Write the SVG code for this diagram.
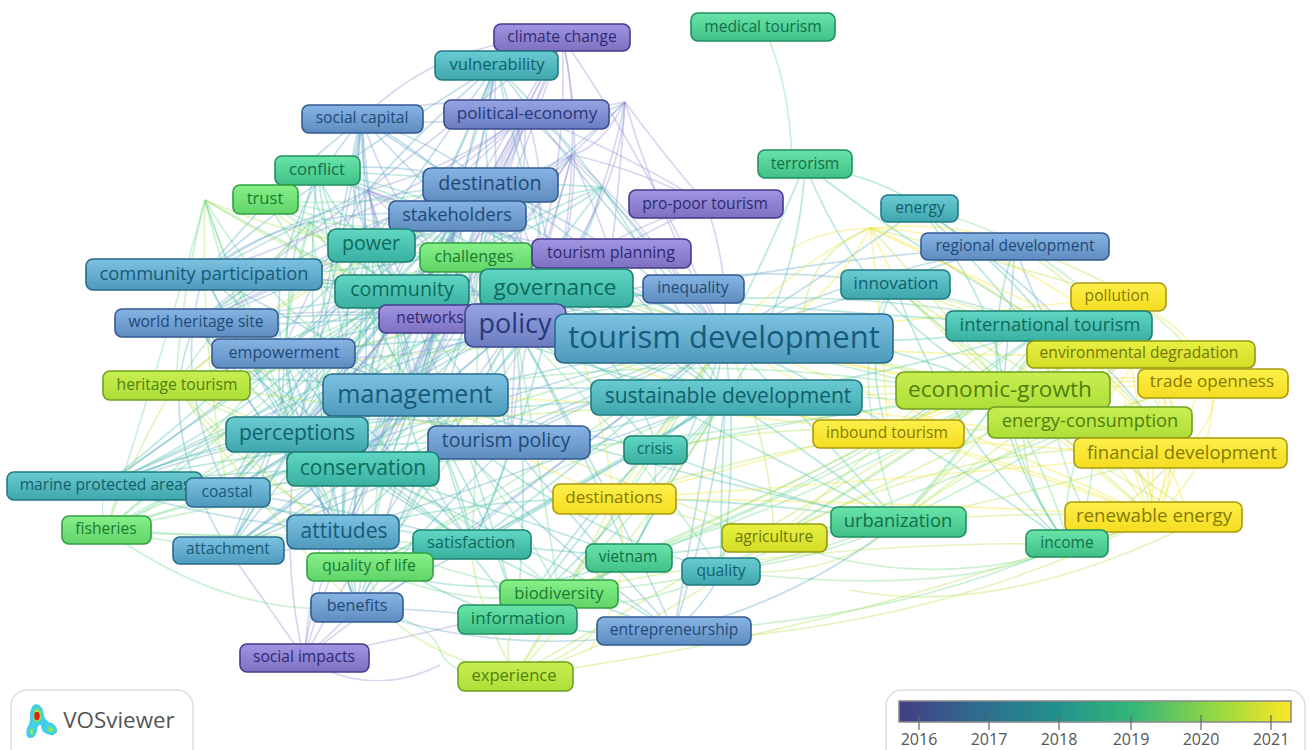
<svg xmlns="http://www.w3.org/2000/svg" width="1309" height="750" viewBox="0 0 1309 750">
<style>
text{font-family:"Open Sans","Noto Sans","Liberation Sans",sans-serif;text-anchor:middle;dominant-baseline:central;transform:translateY(-1.2px)}
#connectors{filter:url(#soft)}
#connectors path{fill:none;stroke-width:1.7;stroke-opacity:.36}
.a{stroke:#5aa6c4}.b{stroke:#8f90d6}.c{stroke:#45bfa8}.d{stroke:#6fd98a}.e{stroke:#b5e04a}.f{stroke:#f4e42c}
.k rect{stroke-width:1.6}
.n1 rect{fill:url(#g1);stroke:#453a8a}.n1 text{fill:#2f2a70}
.n2 rect{fill:url(#g2);stroke:#3a4a8e}.n2 text{fill:#28387a}
.n3 rect{fill:url(#g3);stroke:#335a8e}.n3 text{fill:#1f4a78}
.n4 rect{fill:url(#g4);stroke:#2a6a88}.n4 text{fill:#185a78}
.n5 rect{fill:url(#g5);stroke:#207a80}.n5 text{fill:#10606a}
.n6 rect{fill:url(#g6);stroke:#1e8070}.n6 text{fill:#0e6a5c}
.n7 rect{fill:url(#g7);stroke:#209060}.n7 text{fill:#107048}
.n8 rect{fill:url(#g8);stroke:#30a040}.n8 text{fill:#1a7a30}
.n9 rect{fill:url(#g9);stroke:#6ea020}.n9 text{fill:#4f8010}
.n10 rect{fill:url(#g10);stroke:#909a10}.n10 text{fill:#6e7808}
.n11 rect{fill:url(#g11);stroke:#a89a10}.n11 text{fill:#857a00}
.leg text{fill:#555;font-size:16px}
</style>
<defs>
<filter id="soft" x="0" y="0" width="100%" height="100%"><feGaussianBlur stdDeviation=".5"/></filter>
<filter id="soft2" x="-20%" y="-20%" width="140%" height="140%"><feGaussianBlur stdDeviation=".7"/></filter>
<linearGradient id="g1" x1="0" y1="0" x2="0" y2="1"><stop offset="0" stop-color="#a096e2"/><stop offset="1" stop-color="#7d70c0"/></linearGradient>
<linearGradient id="g2" x1="0" y1="0" x2="0" y2="1"><stop offset="0" stop-color="#96a4e4"/><stop offset="1" stop-color="#6a7cc0"/></linearGradient>
<linearGradient id="g3" x1="0" y1="0" x2="0" y2="1"><stop offset="0" stop-color="#86b4e4"/><stop offset="1" stop-color="#5e8cc0"/></linearGradient>
<linearGradient id="g4" x1="0" y1="0" x2="0" y2="1"><stop offset="0" stop-color="#7cc2e2"/><stop offset="1" stop-color="#4e9abc"/></linearGradient>
<linearGradient id="g5" x1="0" y1="0" x2="0" y2="1"><stop offset="0" stop-color="#6accd2"/><stop offset="1" stop-color="#3fa6ae"/></linearGradient>
<linearGradient id="g6" x1="0" y1="0" x2="0" y2="1"><stop offset="0" stop-color="#60d6c4"/><stop offset="1" stop-color="#39b0a0"/></linearGradient>
<linearGradient id="g7" x1="0" y1="0" x2="0" y2="1"><stop offset="0" stop-color="#68e4a8"/><stop offset="1" stop-color="#40c088"/></linearGradient>
<linearGradient id="g8" x1="0" y1="0" x2="0" y2="1"><stop offset="0" stop-color="#86f088"/><stop offset="1" stop-color="#60d468"/></linearGradient>
<linearGradient id="g9" x1="0" y1="0" x2="0" y2="1"><stop offset="0" stop-color="#c8ee50"/><stop offset="1" stop-color="#aede38"/></linearGradient>
<linearGradient id="g10" x1="0" y1="0" x2="0" y2="1"><stop offset="0" stop-color="#e8f040"/><stop offset="1" stop-color="#d4dc28"/></linearGradient>
<linearGradient id="g11" x1="0" y1="0" x2="0" y2="1"><stop offset="0" stop-color="#fdf04a"/><stop offset="1" stop-color="#f5dc20"/></linearGradient>
<linearGradient id="vir"><stop offset="0" stop-color="#433e85"/><stop offset=".2" stop-color="#2f6b8e"/><stop offset=".4" stop-color="#21918c"/><stop offset=".6" stop-color="#35b779"/><stop offset=".8" stop-color="#90d743"/><stop offset="1" stop-color="#fde725"/></linearGradient>
</defs>
<rect width="1309" height="750" fill="#fff"/>
<g id="connectors">
<path class="a" d="M415 395Q300 320 204 274"/><path class="a" d="M415 395Q310 345 196 323"/><path class="a" d="M415 395Q350 360 283 353"/><path class="c" d="M415 395Q290 370 176 385"/><path class="a" d="M415 395Q250 430 104 486"/><path class="a" d="M415 395Q330 430 228 492"/><path class="d" d="M415 395Q250 460 106 530"/><path class="a" d="M415 395Q320 480 228 550"/><path class="c" d="M415 395Q460 470 472 544"/><path class="d" d="M415 395Q375 490 370 567"/><path class="a" d="M415 395Q370 500 357 607"/><path class="b" d="M415 395Q340 530 304 658"/><path class="c" d="M415 395Q490 510 517 619"/><path class="d" d="M415 395Q510 490 559 594"/><path class="a" d="M415 395Q480 290 490 185"/><path class="a" d="M415 395Q445 300 457 216"/><path class="b" d="M415 395Q490 250 526 114"/><path class="a" d="M415 395Q470 220 496 65"/><path class="b" d="M415 395Q510 210 562 37"/><path class="a" d="M415 395Q370 250 362 119"/><path class="c" d="M415 395Q350 280 317 170"/><path class="d" d="M415 395Q320 290 265 199"/>
<path class="a" d="M724 338Q560 250 362 119"/><path class="a" d="M724 338Q620 230 496 65"/><path class="b" d="M724 338Q660 180 562 37"/><path class="b" d="M724 338Q640 220 526 114"/><path class="a" d="M724 338Q620 240 490 185"/><path class="a" d="M724 338Q600 270 457 216"/><path class="c" d="M724 338Q540 240 317 170"/><path class="d" d="M724 338Q500 240 265 199"/><path class="a" d="M724 338Q460 280 204 274"/><path class="a" d="M724 338Q460 300 196 323"/><path class="a" d="M724 338Q500 330 283 353"/><path class="e" d="M724 338Q450 340 176 385"/><path class="a" d="M724 338Q410 390 104 486"/><path class="a" d="M724 338Q470 400 228 492"/><path class="d" d="M724 338Q420 430 106 530"/><path class="a" d="M724 338Q470 450 228 550"/><path class="c" d="M724 338Q600 450 472 544"/><path class="d" d="M724 338Q540 470 370 567"/><path class="a" d="M724 338Q530 490 357 607"/><path class="b" d="M724 338Q500 510 304 658"/><path class="c" d="M724 338Q620 490 517 619"/><path class="d" d="M724 338Q650 470 559 594"/><path class="c" d="M724 338Q690 450 629 558"/><path class="c" d="M724 338Q740 450 721 571"/><path class="a" d="M724 338Q700 490 674 631"/><path class="e" d="M724 338Q620 500 515 676"/><path class="c" d="M724 338Q810 420 898 522"/><path class="e" d="M724 338Q770 430 774 538"/><path class="f" d="M724 338Q670 420 614 499"/><path class="f" d="M724 338Q810 390 888 434"/><path class="c" d="M724 338Q900 420 1067 544"/><path class="e" d="M724 338Q870 360 1003 390"/><path class="d" d="M724 338Q900 380 1090 422"/><path class="f" d="M724 338Q950 380 1180 453"/><path class="f" d="M724 338Q950 420 1153 517"/><path class="f" d="M724 338Q920 320 1118 297"/><path class="f" d="M724 338Q930 360 1141 354"/><path class="f" d="M724 338Q960 400 1213 383"/><path class="c" d="M724 338Q880 350 1049 326"/><path class="a" d="M724 338Q800 310 895 285"/><path class="a" d="M724 338Q860 270 1015 246"/><path class="a" d="M724 338Q820 280 920 208"/><path class="c" d="M724 338Q770 250 805 164"/><path class="b" d="M724 338Q730 270 706 204"/>
<path class="b" d="M515 325Q400 240 362 119"/><path class="b" d="M515 325Q490 200 496 65"/><path class="b" d="M515 325Q570 190 562 37"/><path class="b" d="M515 325Q560 210 526 114"/><path class="b" d="M515 325Q560 250 490 185"/><path class="b" d="M515 325Q360 270 204 274"/><path class="b" d="M515 325Q350 300 196 323"/><path class="b" d="M515 325Q400 370 283 353"/><path class="a" d="M515 325Q310 390 104 486"/><path class="a" d="M515 325Q370 400 228 492"/><path class="a" d="M515 325Q380 440 228 550"/><path class="b" d="M515 325Q400 480 304 658"/><path class="a" d="M515 325Q430 470 357 607"/><path class="d" d="M515 325Q440 460 370 567"/><path class="d" d="M515 325Q540 470 559 594"/><path class="c" d="M515 325Q530 470 517 619"/><path class="a" d="M515 325Q600 470 674 631"/><path class="b" d="M515 325Q580 240 706 204"/><path class="b" d="M515 325Q620 210 625 102"/><path class="b" d="M526 114Q600 120 625 102Q600 150 570 155"/><path class="c" d="M515 325Q760 290 1003 390"/><path class="c" d="M515 325Q780 270 1049 326"/><path class="a" d="M515 325Q760 260 1015 246"/><path class="a" d="M515 325Q700 250 895 285"/>
<path class="c" d="M556 288Q430 220 317 170"/><path class="a" d="M556 288Q460 170 362 119"/><path class="c" d="M556 288Q520 170 496 65"/><path class="b" d="M556 288Q590 160 562 37"/><path class="c" d="M556 288Q380 300 204 274"/><path class="a" d="M556 288Q370 330 196 323"/><path class="c" d="M556 288Q340 360 176 385"/><path class="c" d="M556 288Q320 380 104 486"/><path class="c" d="M556 288Q390 390 228 492"/><path class="a" d="M556 288Q400 430 228 550"/><path class="c" d="M556 288Q470 420 343 532"/><path class="c" d="M556 288Q480 420 363 469"/><path class="c" d="M556 288Q420 370 297 434"/><path class="c" d="M556 288Q530 420 472 544"/><path class="d" d="M556 288Q470 440 370 567"/><path class="c" d="M556 288Q640 340 726 397"/><path class="c" d="M556 288Q660 420 655 450"/><path class="f" d="M556 288Q600 390 614 499"/>
<path class="c" d="M402 291Q300 230 317 170"/><path class="d" d="M402 291Q320 240 265 199"/><path class="a" d="M402 291Q330 200 362 119"/><path class="c" d="M402 291Q300 280 204 274"/><path class="a" d="M402 291Q290 310 196 323"/><path class="c" d="M402 291Q290 340 176 385"/><path class="c" d="M402 291Q250 380 104 486"/><path class="c" d="M402 291Q300 400 228 492"/><path class="d" d="M402 291Q240 420 106 530"/><path class="a" d="M402 291Q300 430 228 550"/><path class="c" d="M402 291Q340 420 343 532"/><path class="c" d="M402 291Q380 420 472 544"/><path class="d" d="M402 291Q380 440 370 567"/><path class="a" d="M402 291Q340 460 357 607"/><path class="b" d="M402 291Q320 480 304 658"/><path class="c" d="M402 291Q480 460 517 619"/><path class="c" d="M402 291Q560 370 726 397"/>
<path class="c" d="M363 469Q240 470 104 486"/><path class="c" d="M363 469Q290 460 228 492"/><path class="d" d="M363 469Q230 490 106 530"/><path class="c" d="M363 469Q290 520 228 550"/><path class="c" d="M363 469Q420 510 472 544"/><path class="d" d="M363 469Q360 520 370 567"/><path class="c" d="M363 469Q340 550 357 607"/><path class="c" d="M363 469Q460 520 517 619"/><path class="d" d="M363 469Q480 520 559 594"/><path class="c" d="M363 469Q290 340 204 274"/><path class="c" d="M363 469Q280 380 196 323"/><path class="e" d="M363 469Q280 430 176 385"/><path class="c" d="M363 469Q550 450 726 397"/><path class="c" d="M363 469Q510 420 724 338"/><path class="c" d="M363 469Q480 380 490 185"/><path class="c" d="M363 469Q420 340 457 216"/>
<path class="a" d="M343 532Q210 520 104 486"/><path class="a" d="M343 532Q280 510 228 492"/><path class="d" d="M343 532Q220 540 106 530"/><path class="a" d="M343 532Q280 560 228 550"/><path class="c" d="M343 532Q410 560 472 544"/><path class="d" d="M343 532Q350 550 370 567"/><path class="a" d="M343 532Q340 570 357 607"/><path class="b" d="M343 532Q310 600 304 658"/><path class="c" d="M343 532Q440 600 517 619"/><path class="d" d="M343 532Q460 580 559 594"/><path class="a" d="M343 532Q270 400 204 274"/><path class="a" d="M343 532Q260 420 196 323"/><path class="a" d="M343 532Q320 440 283 353"/><path class="e" d="M343 532Q240 470 176 385"/><path class="c" d="M343 532Q300 350 317 170"/><path class="d" d="M343 532Q260 360 205 200"/><path class="a" d="M343 532Q530 470 726 397"/><path class="c" d="M343 532Q560 470 898 522"/>
<path class="c" d="M297 434Q190 450 104 486"/><path class="c" d="M297 434Q250 450 228 492"/><path class="d" d="M297 434Q190 480 106 530"/><path class="c" d="M297 434Q260 500 228 550"/><path class="c" d="M297 434Q400 500 472 544"/><path class="d" d="M297 434Q330 510 370 567"/><path class="a" d="M297 434Q330 530 357 607"/><path class="b" d="M297 434Q280 560 304 658"/><path class="c" d="M297 434Q240 350 204 274"/><path class="a" d="M297 434Q240 380 196 323"/><path class="a" d="M297 434Q270 390 283 353"/><path class="e" d="M297 434Q230 420 176 385"/><path class="c" d="M297 434Q270 300 317 170"/><path class="d" d="M297 434Q230 310 205 200"/><path class="a" d="M297 434Q340 270 362 119"/><path class="c" d="M297 434Q420 250 496 65"/><path class="c" d="M297 434Q500 400 726 397"/><path class="c" d="M297 434Q460 300 556 288"/>
<path class="d" d="M205 200Q180 300 176 385"/><path class="d" d="M205 200Q240 310 283 353"/><path class="e" d="M205 200Q300 240 371 245"/><path class="d" d="M205 200Q330 270 402 291"/><path class="e" d="M205 200Q350 290 515 325"/><path class="d" d="M205 200Q280 330 415 395"/><path class="e" d="M205 200Q200 350 228 492"/><path class="d" d="M205 200Q170 330 106 530"/><path class="e" d="M265 199Q290 240 371 245"/><path class="d" d="M265 199Q350 210 490 185"/>
<path class="b" d="M526 114Q440 200 371 245"/><path class="b" d="M526 114Q480 220 402 291"/><path class="b" d="M562 37Q530 130 490 185"/><path class="b" d="M562 37Q510 130 457 216"/><path class="a" d="M496 65Q470 130 457 216"/><path class="a" d="M496 65Q480 130 490 185"/><path class="a" d="M496 65Q420 170 371 245"/><path class="a" d="M362 119Q410 170 457 216"/><path class="a" d="M362 119Q430 140 490 185"/><path class="a" d="M362 119Q350 190 371 245"/><path class="b" d="M362 119Q450 90 526 114"/><path class="b" d="M362 119Q440 40 562 37"/><path class="a" d="M317 170Q400 160 490 185"/><path class="b" d="M706 204Q630 240 611 254"/><path class="b" d="M706 204Q620 150 526 114"/><path class="a" d="M490 185Q560 180 572 155"/><path class="a" d="M490 185Q600 240 726 397"/><path class="a" d="M457 216Q600 290 726 397"/>
<path class="d" d="M763 27Q790 80 792 164"/><path class="c" d="M805 164Q890 180 920 208"/><path class="c" d="M805 164Q900 240 1049 326"/><path class="c" d="M805 164Q860 310 1003 390"/><path class="c" d="M805 164Q800 290 726 397"/><path class="c" d="M920 208Q1000 260 1049 326"/><path class="c" d="M920 208Q1020 300 1090 422"/><path class="c" d="M920 208Q1000 310 1003 390"/><path class="a" d="M1015 246Q1030 290 1049 326"/><path class="a" d="M1015 246Q940 260 895 285"/><path class="a" d="M1015 246Q1010 320 1003 390"/><path class="e" d="M870 228Q960 250 1118 297"/><path class="f" d="M870 228Q1000 230 1141 354"/><path class="f" d="M870 228Q880 300 888 434"/><path class="f" d="M870 228Q800 260 724 338"/><path class="f" d="M870 228Q1030 290 1180 453"/><path class="f" d="M870 228Q1040 310 1213 383"/><path class="e" d="M895 285Q950 340 1003 390"/><path class="d" d="M895 285Q970 360 1090 422"/><path class="c" d="M895 285Q960 300 1049 326"/><path class="d" d="M895 285Q840 350 898 522"/><path class="e" d="M895 285Q1010 370 1180 453"/><path class="e" d="M895 285Q1010 390 1153 517"/><path class="e" d="M895 285Q1020 320 1213 383"/><path class="e" d="M895 285Q1010 330 1141 354"/>
<path class="d" d="M1049 326Q1040 350 1003 390"/><path class="d" d="M1049 326Q1080 370 1090 422"/><path class="e" d="M1049 326Q1130 390 1180 453"/><path class="e" d="M1049 326Q1130 420 1153 517"/><path class="e" d="M1049 326Q1140 340 1213 383"/><path class="e" d="M1049 326Q1090 340 1141 354"/><path class="e" d="M1049 326Q1100 290 1118 297"/><path class="d" d="M1049 326Q990 450 1067 544"/><path class="d" d="M1049 326Q960 440 888 434"/><path class="d" d="M1049 326Q980 430 898 522"/>
<path class="e" d="M1003 390Q1040 420 1090 422"/><path class="f" d="M1003 390Q1090 410 1180 453"/><path class="f" d="M1003 390Q1070 450 1153 517"/><path class="f" d="M1003 390Q1100 370 1213 383"/><path class="e" d="M1003 390Q1070 360 1141 354"/><path class="f" d="M1003 390Q1070 320 1118 297"/><path class="e" d="M1003 390Q950 400 888 434"/><path class="d" d="M1003 390Q950 470 898 522"/><path class="d" d="M1003 390Q1020 480 1067 544"/><path class="e" d="M1003 390Q880 470 774 538"/><path class="f" d="M1003 390Q810 450 614 499"/><path class="d" d="M1003 390Q870 480 721 571"/><path class="d" d="M1003 390Q820 500 629 558"/><path class="e" d="M1003 390Q780 520 515 676"/><path class="d" d="M1003 390Q760 510 559 594"/>
<path class="f" d="M1090 422Q1140 440 1180 453"/><path class="f" d="M1090 422Q1120 470 1153 517"/><path class="f" d="M1090 422Q1160 390 1213 383"/><path class="f" d="M1090 422Q1130 370 1141 354"/><path class="f" d="M1090 422Q1110 350 1118 297"/><path class="e" d="M1090 422Q990 430 888 434"/><path class="d" d="M1090 422Q1000 470 898 522"/><path class="d" d="M1090 422Q1060 490 1067 544"/><path class="f" d="M1180 453Q1170 490 1153 517"/><path class="f" d="M1180 453Q1220 420 1213 383"/><path class="f" d="M1180 453Q1170 400 1141 354"/><path class="f" d="M1180 453Q1170 360 1118 297"/><path class="f" d="M1180 453Q1030 450 888 434"/><path class="e" d="M1180 453Q1040 490 898 522"/><path class="e" d="M1180 453Q1130 510 1067 544"/><path class="f" d="M1153 517Q1215 470 1213 383"/><path class="f" d="M1153 517Q1190 420 1141 354"/><path class="f" d="M1153 517Q1140 400 1118 297"/><path class="f" d="M1153 517Q1020 460 888 434"/><path class="e" d="M1153 517Q1030 510 898 522"/><path class="f" d="M1153 517Q1110 540 1067 544"/><path class="f" d="M1213 383Q1180 350 1141 354"/><path class="f" d="M1213 383Q1190 320 1118 297"/><path class="f" d="M1141 354Q1140 320 1118 297"/>
<path class="e" d="M888 434Q760 450 614 499"/><path class="e" d="M898 522Q840 580 721 571"/><path class="d" d="M1067 544Q960 600 721 571"/><path class="d" d="M1067 544Q900 620 674 631"/><path class="d" d="M1153 517Q950 610 774 538"/><path class="e" d="M888 434Q830 490 774 538"/><path class="c" d="M898 522Q780 540 629 558"/><path class="d" d="M898 522Q740 580 559 594"/><path class="e" d="M614 499Q700 520 774 538"/><path class="c" d="M726 397Q820 460 898 522"/><path class="c" d="M726 397Q720 490 721 571"/><path class="c" d="M726 397Q670 480 629 558"/><path class="d" d="M726 397Q650 500 559 594"/><path class="c" d="M726 397Q630 510 517 619"/><path class="a" d="M726 397Q710 520 674 631"/><path class="c" d="M726 397Q610 470 472 544"/><path class="c" d="M726 397Q880 380 1049 326"/><path class="e" d="M726 397Q860 380 1003 390"/><path class="d" d="M726 397Q900 390 1090 422"/><path class="f" d="M726 397Q950 420 1180 453"/><path class="f" d="M726 397Q950 440 1153 517"/><path class="f" d="M726 397Q810 420 888 434"/><path class="a" d="M510 442Q620 370 726 397"/><path class="a" d="M510 442Q400 400 297 434"/><path class="a" d="M510 442Q620 390 724 338"/><path class="a" d="M510 442Q370 470 228 492"/><path class="a" d="M510 442Q430 520 357 607"/><path class="c" d="M510 442Q500 490 472 544"/><path class="a" d="M510 442Q590 540 674 631"/><path class="c" d="M655 450Q700 400 726 397"/>
<path class="b" d="M304 658Q400 640 517 610"/><path class="b" d="M304 658Q370 700 440 665"/><path class="b" d="M304 658Q340 625 357 607"/><path class="b" d="M304 658Q250 580 228 550"/><path class="d" d="M515 676Q450 680 440 650Q430 620 357 607"/><path class="e" d="M515 676Q500 650 517 619"/><path class="e" d="M515 676Q590 650 600 620"/><path class="e" d="M515 676Q370 640 370 567"/><path class="e" d="M515 676Q470 590 472 544"/><path class="c" d="M517 619Q590 590 629 558"/><path class="c" d="M517 619Q600 640 674 631"/><path class="d" d="M559 594Q600 580 629 558"/><path class="d" d="M559 594Q620 620 721 571"/><path class="d" d="M106 530Q160 540 228 550"/><path class="c" d="M104 486Q170 500 228 492"/><path class="d" d="M106 530Q100 510 104 486"/><path class="d" d="M106 530Q230 620 357 607"/><path class="e" d="M176 385Q140 440 106 530"/><path class="a" d="M204 274Q170 380 228 492"/><path class="a" d="M196 323Q150 420 228 550"/><path class="a" d="M283 353Q200 420 104 486"/>
<path class="b" d="M368 190Q450 170 526 114"/><path class="b" d="M368 190Q470 110 562 37"/><path class="b" d="M368 190Q420 220 457 216"/><path class="b" d="M368 190Q450 270 515 325"/><path class="b" d="M368 190Q390 270 429 319"/><path class="b" d="M368 190Q490 240 611 254"/><path class="b" d="M368 190Q360 220 371 245"/><path class="b" d="M368 190Q380 250 402 291"/><path class="b" d="M368 190Q310 280 283 353"/><path class="b" d="M368 190Q260 270 196 323"/><path class="b" d="M368 190Q400 300 415 395"/><path class="a" d="M368 190Q270 240 204 274"/><path class="a" d="M368 190Q420 130 496 65"/><path class="a" d="M368 190Q360 150 362 119"/>
<path class="b" d="M572 155Q550 240 515 325"/><path class="b" d="M572 155Q575 90 562 37"/><path class="b" d="M572 155Q560 130 526 114"/><path class="b" d="M572 155Q600 220 611 254"/><path class="b" d="M572 155Q520 190 457 216"/><path class="b" d="M572 155Q510 250 429 319"/><path class="b" d="M572 155Q640 170 706 204"/><path class="b" d="M572 155Q660 240 724 338"/><path class="b" d="M572 155Q570 220 556 288"/><path class="b" d="M572 155Q380 240 196 323"/><path class="b" d="M572 155Q480 290 415 395"/><path class="b" d="M572 155Q530 300 510 442"/><path class="b" d="M625 102Q600 220 556 288"/><path class="b" d="M625 102Q660 220 724 338"/><path class="b" d="M625 102Q500 230 402 291"/><path class="b" d="M625 102Q490 130 362 119"/><path class="b" d="M625 102Q660 150 706 204"/><path class="b" d="M625 102Q620 180 611 254"/><path class="a" d="M625 102Q480 240 371 245"/>
<path class="c" d="M602 187Q550 120 496 65"/><path class="c" d="M602 187Q590 240 556 288"/><path class="c" d="M602 187Q660 260 724 338"/><path class="c" d="M602 187Q500 230 402 291"/><path class="c" d="M602 187Q490 210 371 245"/><path class="c" d="M602 187Q470 180 317 170"/><path class="c" d="M602 187Q520 300 415 395"/><path class="c" d="M602 187Q670 290 726 397"/><path class="c" d="M602 187Q480 280 204 274"/>
<path class="d" d="M310 222Q280 210 265 199"/><path class="d" d="M310 222Q290 300 283 353"/><path class="d" d="M310 222Q240 300 196 323"/><path class="d" d="M310 222Q240 290 176 385"/><path class="d" d="M310 222Q350 260 402 291"/><path class="d" d="M310 222Q370 310 415 395"/><path class="d" d="M310 222Q270 340 297 434"/><path class="d" d="M310 222Q330 350 363 469"/><path class="d" d="M310 222Q440 230 476 257"/><path class="d" d="M310 222Q420 300 515 325"/><path class="d" d="M476 257Q380 240 265 199"/><path class="d" d="M476 257Q330 300 204 274"/><path class="d" d="M476 257Q330 340 176 385"/><path class="d" d="M476 257Q440 320 415 395"/><path class="d" d="M476 257Q400 360 297 434"/><path class="d" d="M476 257Q430 380 363 469"/><path class="d" d="M476 257Q580 290 724 338"/><path class="d" d="M476 257Q480 400 472 544"/>
<path class="a" d="M283 353Q360 410 472 544"/><path class="a" d="M283 353Q350 330 556 288"/><path class="a" d="M283 353Q290 440 228 550"/><path class="a" d="M283 353Q310 480 357 607"/><path class="a" d="M283 353Q380 260 490 185"/><path class="a" d="M283 353Q370 280 457 216"/><path class="a" d="M283 353Q260 240 362 119"/><path class="a" d="M204 274Q290 200 457 216"/><path class="a" d="M204 274Q320 190 490 185"/><path class="a" d="M204 274Q280 180 362 119"/><path class="a" d="M204 274Q280 200 496 65"/><path class="a" d="M196 323Q320 230 490 185"/><path class="a" d="M196 323Q300 260 457 216"/><path class="a" d="M196 323Q290 290 371 245"/><path class="a" d="M196 323Q280 400 363 469"/><path class="a" d="M196 323Q260 420 343 532"/><path class="a" d="M228 492Q290 360 402 291"/><path class="a" d="M228 492Q340 340 457 216"/><path class="a" d="M228 492Q370 350 490 185"/><path class="a" d="M228 492Q360 510 472 544"/><path class="a" d="M228 550Q300 360 371 245"/><path class="a" d="M228 550Q350 400 457 216"/><path class="a" d="M228 550Q400 460 510 442"/><path class="c" d="M104 486Q260 360 371 245"/><path class="c" d="M104 486Q290 400 457 216"/><path class="c" d="M104 486Q280 440 510 442"/><path class="c" d="M104 486Q300 510 472 544"/><path class="c" d="M104 486Q320 420 490 185"/><path class="d" d="M106 530Q260 400 371 245"/><path class="d" d="M106 530Q300 440 457 216"/><path class="d" d="M106 530Q300 490 510 442"/><path class="d" d="M106 530Q290 540 472 544"/><path class="e" d="M176 385Q280 300 371 245"/><path class="e" d="M176 385Q300 280 457 216"/><path class="e" d="M176 385Q350 400 510 442"/><path class="e" d="M176 385Q280 490 370 567"/><path class="e" d="M176 385Q260 510 357 607"/><path class="e" d="M176 385Q330 360 556 288"/>
<path class="c" d="M371 245Q380 340 363 469"/><path class="c" d="M371 245Q340 340 297 434"/><path class="c" d="M371 245Q350 400 343 532"/><path class="c" d="M371 245Q430 400 472 544"/><path class="c" d="M371 245Q400 320 415 395"/><path class="c" d="M371 245Q430 330 510 442"/><path class="c" d="M371 245Q470 260 556 288"/><path class="c" d="M371 245Q520 280 724 338"/><path class="a" d="M457 216Q440 300 402 291"/><path class="a" d="M457 216Q430 370 363 469"/><path class="a" d="M457 216Q390 370 343 532"/><path class="a" d="M457 216Q380 330 297 434"/><path class="a" d="M457 216Q480 330 510 442"/><path class="a" d="M457 216Q420 430 357 607"/><path class="a" d="M490 185Q440 340 363 469"/><path class="a" d="M490 185Q420 380 343 532"/><path class="a" d="M490 185Q410 320 297 434"/><path class="a" d="M490 185Q500 310 510 442"/><path class="a" d="M490 185Q460 420 357 607"/><path class="a" d="M490 185Q520 250 556 288"/><path class="a" d="M496 65Q470 250 402 291"/><path class="a" d="M496 65Q540 190 556 288"/><path class="a" d="M496 65Q430 290 363 469"/><path class="a" d="M496 65Q400 300 297 434"/><path class="a" d="M362 119Q330 270 297 434"/><path class="a" d="M362 119Q370 300 363 469"/><path class="a" d="M362 119Q340 340 343 532"/><path class="b" d="M526 114Q450 300 363 469"/><path class="b" d="M526 114Q430 300 297 434"/><path class="b" d="M526 114Q440 340 343 532"/><path class="b" d="M526 114Q520 280 510 442"/><path class="b" d="M526 114Q400 210 204 274"/><path class="b" d="M526 114Q380 240 196 323"/><path class="b" d="M562 37Q460 250 402 291"/><path class="b" d="M562 37Q430 310 297 434"/><path class="b" d="M562 37Q460 290 363 469"/><path class="b" d="M317 170Q410 210 457 216"/><path class="c" d="M317 170Q330 210 371 245"/><path class="c" d="M317 170Q340 320 363 469"/><path class="c" d="M317 170Q480 200 556 288"/>
<path class="c" d="M472 544Q620 460 726 397"/><path class="c" d="M472 544Q570 600 674 631"/><path class="c" d="M472 544Q560 550 629 558"/><path class="d" d="M370 567Q520 480 726 397"/><path class="d" d="M370 567Q460 610 559 594"/><path class="c" d="M370 567Q500 610 629 558"/><path class="a" d="M357 607Q530 520 726 397"/><path class="a" d="M357 607Q500 660 674 631"/><path class="a" d="M357 607Q440 610 517 619"/><path class="c" d="M363 469Q520 540 674 631"/><path class="c" d="M363 469Q500 510 629 558"/><path class="a" d="M415 395Q570 430 655 450"/><path class="a" d="M415 395Q570 380 726 397"/><path class="a" d="M415 395Q540 540 674 631"/><path class="c" d="M415 395Q560 530 721 571"/><path class="f" d="M415 395Q520 460 614 499"/><path class="e" d="M415 395Q610 480 774 538"/><path class="f" d="M415 395Q650 400 888 434"/><path class="c" d="M415 395Q650 470 898 522"/><path class="e" d="M297 434Q650 400 1003 390"/><path class="d" d="M363 469Q700 440 1003 390"/><path class="d" d="M415 395Q750 330 1090 422"/><path class="c" d="M556 288Q800 310 1049 326"/><path class="e" d="M556 288Q780 340 1003 390"/><path class="f" d="M515 325Q700 400 888 434"/><path class="c" d="M515 325Q700 420 898 522"/><path class="d" d="M515 325Q640 450 721 571"/><path class="c" d="M515 325Q580 440 629 558"/><path class="c" d="M515 325Q640 360 726 397"/><path class="c" d="M515 325Q600 380 655 450"/>
<path class="e" d="M726 397Q640 540 515 676"/><path class="e" d="M614 499Q560 610 515 676"/><path class="e" d="M774 538Q640 640 515 676"/><path class="f" d="M614 499Q640 570 590 650"/><path class="d" d="M655 450Q660 510 629 558"/><path class="c" d="M655 450Q590 500 517 619"/><path class="c" d="M655 450Q780 500 898 522"/><path class="d" d="M655 450Q850 410 1003 390"/><path class="e" d="M655 450Q800 420 888 434"/><path class="a" d="M674 631Q800 600 898 522"/><path class="a" d="M674 631Q710 600 721 571"/><path class="d" d="M721 571Q820 560 898 522"/><path class="d" d="M629 558Q780 490 888 434"/><path class="e" d="M559 594Q760 500 888 434"/><path class="e" d="M559 594Q800 540 1067 544"/><path class="e" d="M515 676Q800 640 1067 544"/><path class="e" d="M700 640Q960 620 1153 517"/><path class="e" d="M850 590Q1000 620 1200 520"/><path class="f" d="M1153 517Q1130 480 1125 400"/><path class="f" d="M1153 517Q1150 470 1160 400"/><path class="f" d="M1153 517Q1170 470 1195 400"/><path class="f" d="M1153 517Q1160 480 1090 422"/><path class="f" d="M1165 500Q1180 430 1170 395"/><path class="f" d="M1185 510Q1170 440 1105 405"/><path class="e" d="M1003 390Q1100 470 1160 500"/><path class="e" d="M1090 422Q1150 500 1220 520"/><path class="e" d="M1015 246Q1110 300 1160 410"/><path class="e" d="M1015 246Q1160 290 1213 383"/><path class="d" d="M920 208Q1060 240 1141 354"/><path class="a" d="M920 208Q1050 290 1180 453"/><path class="d" d="M1049 326Q1040 440 1100 540"/><path class="d" d="M1003 390Q1060 500 1067 544"/><path class="d" d="M1090 422Q1100 500 1067 544"/><path class="c" d="M1067 544Q950 440 895 285"/><path class="c" d="M1067 544Q960 400 1015 246"/><path class="c" d="M888 434Q970 380 1049 326"/><path class="c" d="M888 434Q860 350 895 285"/><path class="e" d="M888 434Q1000 320 1118 297"/><path class="f" d="M888 434Q1030 370 1213 383"/><path class="f" d="M888 434Q1010 370 1141 354"/><path class="e" d="M898 522Q1000 420 1118 297"/><path class="e" d="M898 522Q1030 420 1213 383"/><path class="e" d="M898 522Q1030 420 1141 354"/><path class="e" d="M774 538Q960 450 1141 354"/><path class="e" d="M774 538Q980 430 1180 453"/><path class="f" d="M614 499Q900 480 1180 453"/><path class="f" d="M614 499Q900 500 1153 517"/><path class="d" d="M721 571Q920 490 1090 422"/><path class="d" d="M629 558Q850 480 1049 326"/><path class="e" d="M870 228Q790 260 805 360"/><path class="f" d="M870 228Q840 290 760 340"/><path class="f" d="M870 228Q820 230 790 250"/><path class="f" d="M870 228Q880 250 896 280"/><path class="e" d="M870 228Q930 290 1003 390"/><path class="f" d="M870 228Q960 220 1015 246"/>
</g>
<g id="nodes">
<g id="climate-change" class="k n1"><rect x="494" y="24" width="136" height="27" rx="7"/><text x="562" y="37" font-size="15.600">climate change</text></g>
<g id="medical-tourism" class="k n7"><rect x="691" y="13" width="144" height="28" rx="7"/><text x="763" y="27" font-size="15.600">medical tourism</text></g>
<g id="vulnerability" class="k n5"><rect x="435" y="51" width="123" height="29" rx="7"/><text x="497" y="65" font-size="16.600">vulnerability</text></g>
<g id="social-capital" class="k n3"><rect x="302" y="105" width="121" height="28" rx="7"/><text x="362" y="118" font-size="15.600">social capital</text></g>
<g id="political-economy" class="k n2"><rect x="444" y="100" width="165" height="29" rx="7"/><text x="527" y="114" font-size="17.100">political-economy</text></g>
<g id="conflict" class="k n7"><rect x="275" y="156" width="85" height="29" rx="7"/><text x="317" y="170" font-size="16.600">conflict</text></g>
<g id="terrorism" class="k n7"><rect x="758" y="150" width="94" height="28" rx="7"/><text x="805" y="164" font-size="15.600">terrorism</text></g>
<g id="trust" class="k n8"><rect x="233" y="185" width="65" height="29" rx="7"/><text x="265" y="199" font-size="16.600">trust</text></g>
<g id="destination" class="k n3"><rect x="423" y="168" width="135" height="34" rx="8"/><text x="490" y="184" font-size="19.700">destination</text></g>
<g id="pro-poor-tourism" class="k n1"><rect x="629" y="190" width="154" height="28" rx="7"/><text x="705" y="204" font-size="15.600">pro-poor tourism</text></g>
<g id="energy" class="k n5"><rect x="881" y="195" width="77" height="27" rx="7"/><text x="920" y="208" font-size="15.600">energy</text></g>
<g id="stakeholders" class="k n3"><rect x="389" y="201" width="137" height="30" rx="7"/><text x="457" y="215" font-size="18.300">stakeholders</text></g>
<g id="power" class="k n6"><rect x="328" y="229" width="87" height="33" rx="8"/><text x="371" y="244" font-size="19.700">power</text></g>
<g id="regional-development" class="k n3"><rect x="921" y="233" width="188" height="27" rx="7"/><text x="1015" y="246" font-size="15.600">regional development</text></g>
<g id="challenges" class="k n8"><rect x="420" y="243" width="112" height="29" rx="7"/><text x="474" y="257" font-size="16.100">challenges</text></g>
<g id="tourism-planning" class="k n1"><rect x="532" y="239" width="159" height="29" rx="7"/><text x="611" y="253" font-size="16.100">tourism planning</text></g>
<g id="community-participation" class="k n4"><rect x="86" y="259" width="236" height="31" rx="7"/><text x="204" y="274" font-size="18.300">community participation</text></g>
<g id="innovation" class="k n5"><rect x="841" y="270" width="109" height="29" rx="7"/><text x="896" y="284" font-size="17.100">innovation</text></g>
<g id="pollution" class="k n11"><rect x="1071" y="283" width="95" height="28" rx="7"/><text x="1117" y="296" font-size="15.600">pollution</text></g>
<g id="community" class="k n6"><rect x="335" y="275" width="134" height="33" rx="8"/><text x="402" y="290" font-size="19.700">community</text></g>
<g id="inequality" class="k n3"><rect x="643" y="275" width="101" height="28" rx="7"/><text x="693" y="288" font-size="15.600">inequality</text></g>
<g id="governance" class="k n6"><rect x="480" y="269" width="153" height="38" rx="8"/><text x="555" y="288" font-size="22.600">governance</text></g>
<g id="world-heritage-site" class="k n3"><rect x="115" y="309" width="163" height="28" rx="7"/><text x="196" y="322" font-size="15.600">world heritage site</text></g>
<g id="networks" class="k n1"><rect x="379" y="305" width="101" height="28" rx="7"/><text x="430" y="318" font-size="15.600">networks</text></g>
<g id="policy" class="k n2"><rect x="465" y="304" width="101" height="43" rx="9"/><text x="515" y="324" font-size="27">policy</text></g>
<g id="tourism-development" class="k n4"><rect x="555" y="314" width="338" height="49" rx="9"/><text x="724" y="337" font-size="31">tourism development</text></g>
<g id="international-tourism" class="k n6"><rect x="946" y="311" width="206" height="30" rx="7"/><text x="1050" y="325" font-size="18.300">international tourism</text></g>
<g id="empowerment" class="k n3"><rect x="212" y="339" width="143" height="29" rx="7"/><text x="284" y="353" font-size="16.100">empowerment</text></g>
<g id="environmental-degradation" class="k n10"><rect x="1027" y="341" width="228" height="27" rx="7"/><text x="1139" y="353" font-size="15.600">environmental degradation</text></g>
<g id="heritage-tourism" class="k n9"><rect x="103" y="371" width="147" height="29" rx="7"/><text x="177" y="385" font-size="15.600">heritage tourism</text></g>
<g id="trade-openness" class="k n11"><rect x="1138" y="369" width="150" height="29" rx="7"/><text x="1212" y="382" font-size="17.100">trade openness</text></g>
<g id="economic-growth" class="k n9"><rect x="896" y="372" width="214" height="37" rx="8"/><text x="1000" y="390" font-size="22.600">economic-growth</text></g>
<g id="management" class="k n4"><rect x="323" y="374" width="185" height="42" rx="9"/><text x="415" y="394" font-size="25">management</text></g>
<g id="sustainable-development" class="k n5"><rect x="591" y="380" width="271" height="35" rx="8"/><text x="728" y="396" font-size="21">sustainable development</text></g>
<g id="energy-consumption" class="k n9"><rect x="988" y="407" width="204" height="31" rx="7"/><text x="1090" y="421" font-size="18.300">energy-consumption</text></g>
<g id="perceptions" class="k n5"><rect x="226" y="417" width="142" height="35" rx="8"/><text x="297" y="433" font-size="21">perceptions</text></g>
<g id="inbound-tourism" class="k n11"><rect x="813" y="420" width="151" height="28" rx="7"/><text x="887" y="433" font-size="15.600">inbound tourism</text></g>
<g id="tourism-policy" class="k n3"><rect x="428" y="426" width="162" height="33" rx="8"/><text x="506" y="441" font-size="19.500">tourism policy</text></g>
<g id="crisis" class="k n6"><rect x="624" y="436" width="63" height="28" rx="7"/><text x="655" y="449" font-size="15.600">crisis</text></g>
<g id="financial-development" class="k n11"><rect x="1074" y="438" width="213" height="30" rx="7"/><text x="1182" y="453" font-size="18.400">financial development</text></g>
<g id="conservation" class="k n6"><rect x="287" y="452" width="152" height="34" rx="8"/><text x="363" y="468" font-size="21">conservation</text></g>
<g id="marine-protected-areas" class="k n5"><rect x="7" y="472" width="195" height="28" rx="7"/><text x="105" y="485" font-size="15.600">marine protected areas</text></g>
<g id="coastal" class="k n4"><rect x="186" y="478" width="84" height="29" rx="7"/><text x="227" y="492" font-size="15.600">coastal</text></g>
<g id="destinations" class="k n11"><rect x="553" y="484" width="123" height="30" rx="7"/><text x="614" y="498" font-size="17">destinations</text></g>
<g id="renewable-energy" class="k n11"><rect x="1065" y="502" width="177" height="30" rx="7"/><text x="1154" y="516" font-size="18.700">renewable energy</text></g>
<g id="attitudes" class="k n4"><rect x="287" y="515" width="112" height="34" rx="8"/><text x="344" y="531" font-size="21">attitudes</text></g>
<g id="urbanization" class="k n7"><rect x="831" y="507" width="135" height="30" rx="7"/><text x="898" y="521" font-size="18.400">urbanization</text></g>
<g id="fisheries" class="k n8"><rect x="62" y="516" width="89" height="28" rx="7"/><text x="106" y="529" font-size="15.600">fisheries</text></g>
<g id="agriculture" class="k n10"><rect x="722" y="524" width="105" height="28" rx="7"/><text x="774" y="537" font-size="15.600">agriculture</text></g>
<g id="satisfaction" class="k n6"><rect x="413" y="530" width="118" height="29" rx="7"/><text x="471" y="543" font-size="16.600">satisfaction</text></g>
<g id="income" class="k n7"><rect x="1026" y="530" width="82" height="27" rx="7"/><text x="1067" y="543" font-size="15.600">income</text></g>
<g id="attachment" class="k n4"><rect x="173" y="537" width="111" height="27" rx="7"/><text x="228" y="549" font-size="15.600">attachment</text></g>
<g id="vietnam" class="k n7"><rect x="586" y="544" width="86" height="28" rx="7"/><text x="628" y="557" font-size="15.600">vietnam</text></g>
<g id="quality" class="k n5"><rect x="682" y="558" width="78" height="27" rx="7"/><text x="721" y="571" font-size="15.600">quality</text></g>
<g id="quality-of-life" class="k n8"><rect x="307" y="553" width="126" height="28" rx="7"/><text x="369" y="566" font-size="15.600">quality of life</text></g>
<g id="biodiversity" class="k n8"><rect x="500" y="580" width="118" height="28" rx="7"/><text x="559" y="594" font-size="16.600">biodiversity</text></g>
<g id="benefits" class="k n3"><rect x="311" y="593" width="92" height="29" rx="7"/><text x="357" y="606" font-size="16.100">benefits</text></g>
<g id="information" class="k n7"><rect x="458" y="605" width="119" height="29" rx="7"/><text x="518" y="619" font-size="17.100">information</text></g>
<g id="entrepreneurship" class="k n3"><rect x="597" y="617" width="154" height="28" rx="7"/><text x="674" y="630" font-size="15.600">entrepreneurship</text></g>
<g id="social-impacts" class="k n1"><rect x="240" y="644" width="129" height="28" rx="7"/><text x="304" y="657" font-size="15.600">social impacts</text></g>
<g id="experience" class="k n9"><rect x="458" y="662" width="115" height="29" rx="7"/><text x="514" y="676" font-size="16.600">experience</text></g>
</g>
<g id="logo">
<rect x="11" y="690" width="182" height="80" rx="16" fill="#fff" stroke="#ddd" stroke-width="1.500"/>
<g filter="url(#soft2)">
<path d="M36 704Q43 705 44 716Q47 723 52 723Q58 727 57 732Q54 737 47 734Q41 732 41 725Q37 724 37 731Q35 739 29 738Q25 736 27 728Q31 722 30 714Q31 705 36 704Z" fill="#3cd0e8"/>
<path d="M36 707Q42 709 42 718Q40 723 34 722Q31 715 36 707ZM47 726Q53 726 55 731Q51 734 48 731ZM31 727Q35 728 33 735Q28 735 31 727Z" fill="#70e078"/>
<path d="M37 710Q41 713 40 719Q36 722 34 718Q34 713 37 710ZM31 730Q33 731 32 734Q30 734 31 730ZM49 728Q52 729 52 731Q50 731 49 728Z" fill="#e8ec40"/>
<ellipse cx="37" cy="716" rx="2.800" ry="4.200" fill="#d82818"/>
</g>
<text x="119" y="721" font-size="22.400" fill="#555">VOSviewer</text>
</g>
<g id="legend" class="leg">
<rect x="886" y="690" width="419" height="80" rx="16" fill="#fff" stroke="#ddd" stroke-width="1.500"/>
<rect x="899" y="701" width="392" height="21" fill="url(#vir)" stroke="#888" stroke-width="1.500"/>
<path d="M919 715V730M989 715V730M1059 715V730M1131 715V730M1201 715V730M1271 715V730" stroke="#666" stroke-width="1.200" fill="none"/>
<text x="919" y="740">2016</text><text x="989" y="740">2017</text><text x="1059" y="740">2018</text><text x="1131" y="740">2019</text><text x="1201" y="740">2020</text><text x="1271" y="740">2021</text>
</g>
</svg>
